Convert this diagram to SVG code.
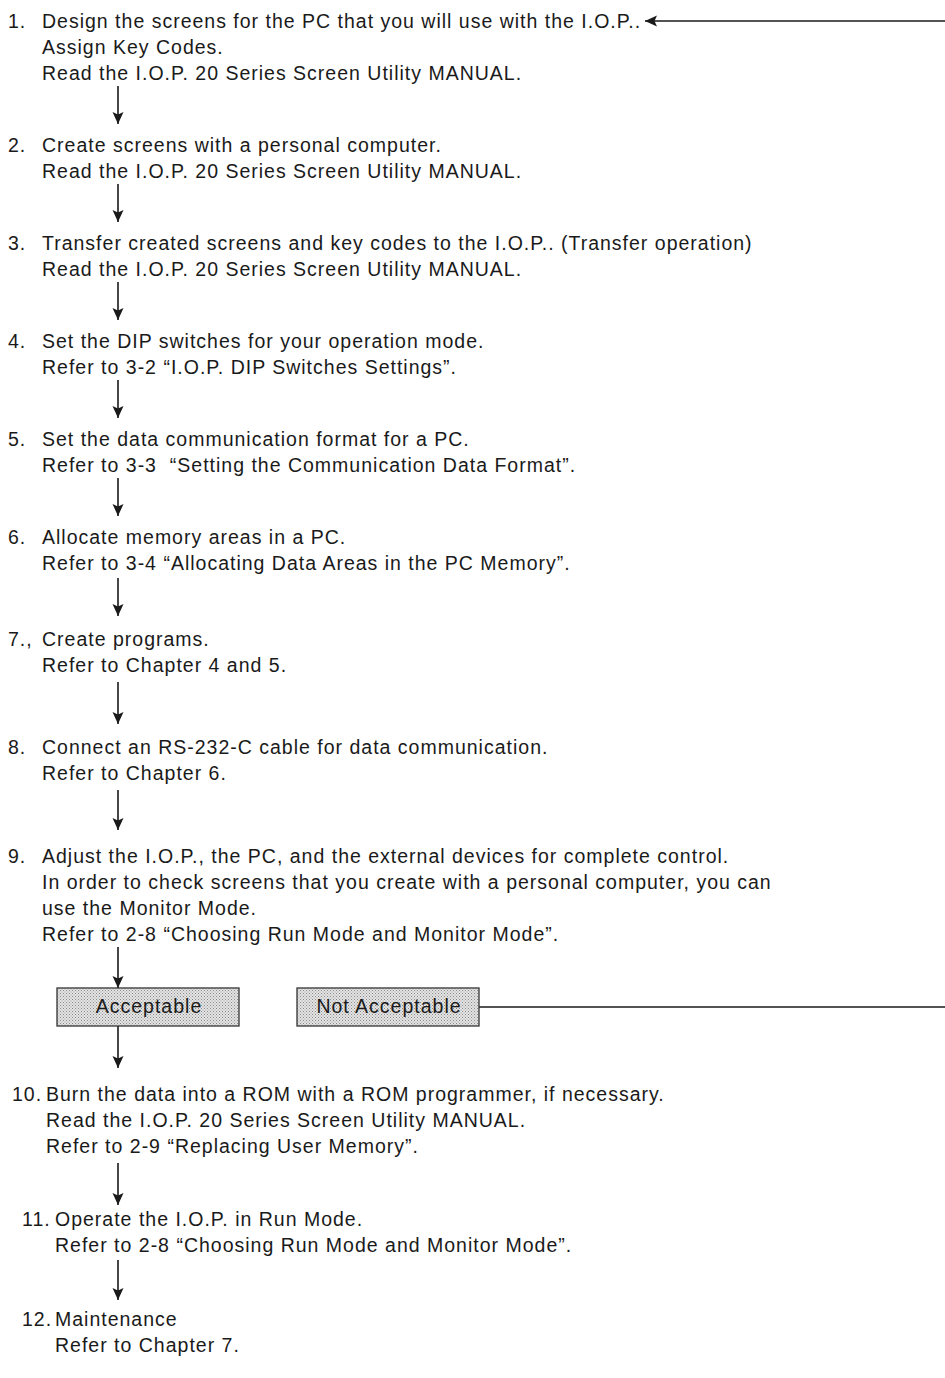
<svg xmlns="http://www.w3.org/2000/svg" width="945" height="1378" viewBox="0 0 945 1378">
<style>
text{font-family:"Liberation Sans","Noto Sans",sans-serif;font-size:19.5px;letter-spacing:1px;fill:#1a1a1a;white-space:pre}
.ln{stroke:#1a1a1a;stroke-width:1.6;fill:none}
.box{fill:url(#dots);stroke:#333;stroke-width:1.3}
.bt{text-anchor:middle}
</style>
<defs>
<marker id="ah" viewBox="0 0 12 12" refX="12" refY="6" markerWidth="12" markerHeight="12" markerUnits="userSpaceOnUse" orient="auto">
<path d="M0,0.5 L12,6 L0,11.5 L2.5,6 Z" fill="#1a1a1a"/>
</marker>
<pattern id="dots" width="3" height="3" patternUnits="userSpaceOnUse">
<rect width="3" height="3" fill="#e4e4e4"/>
<rect width="1" height="1" fill="#8a8a8a"/>
<rect x="1.5" y="1.5" width="1" height="1" fill="#9a9a9a"/>
</pattern>
</defs>
<g id="connectors">
<line class="ln" x1="945" y1="21" x2="645" y2="21" marker-end="url(#ah)"/>
<line class="ln" x1="118" y1="86" x2="118" y2="124" marker-end="url(#ah)"/>
<line class="ln" x1="118" y1="184" x2="118" y2="222" marker-end="url(#ah)"/>
<line class="ln" x1="118" y1="282" x2="118" y2="320" marker-end="url(#ah)"/>
<line class="ln" x1="118" y1="380" x2="118" y2="418" marker-end="url(#ah)"/>
<line class="ln" x1="118" y1="478" x2="118" y2="516" marker-end="url(#ah)"/>
<line class="ln" x1="118" y1="578" x2="118" y2="616" marker-end="url(#ah)"/>
<line class="ln" x1="118" y1="682" x2="118" y2="724" marker-end="url(#ah)"/>
<line class="ln" x1="118" y1="790" x2="118" y2="830" marker-end="url(#ah)"/>
<line class="ln" x1="118" y1="947" x2="118" y2="988" marker-end="url(#ah)"/>
<line class="ln" x1="118" y1="1026" x2="118" y2="1068" marker-end="url(#ah)"/>
<line class="ln" x1="118" y1="1163" x2="118" y2="1205" marker-end="url(#ah)"/>
<line class="ln" x1="118" y1="1260" x2="118" y2="1300" marker-end="url(#ah)"/>
<line class="ln" x1="479" y1="1007" x2="945" y2="1007"/>
</g>
<g id="step1">
<text x="8" y="28">1.</text>
<text x="42" y="28">Design the screens for the PC that you will use with the I.O.P..</text>
<text x="42" y="54">Assign Key Codes.</text>
<text x="42" y="80">Read the I.O.P. 20 Series Screen Utility MANUAL.</text>
</g>
<g id="step2">
<text x="8" y="152">2.</text>
<text x="42" y="152">Create screens with a personal computer.</text>
<text x="42" y="178">Read the I.O.P. 20 Series Screen Utility MANUAL.</text>
</g>
<g id="step3">
<text x="8" y="250">3.</text>
<text x="42" y="250">Transfer created screens and key codes to the I.O.P.. (Transfer operation)</text>
<text x="42" y="276">Read the I.O.P. 20 Series Screen Utility MANUAL.</text>
</g>
<g id="step4">
<text x="8" y="348">4.</text>
<text x="42" y="348">Set the DIP switches for your operation mode.</text>
<text x="42" y="374">Refer to 3-2 “I.O.P. DIP Switches Settings”.</text>
</g>
<g id="step5">
<text x="8" y="446">5.</text>
<text x="42" y="446">Set the data communication format for a PC.</text>
<text x="42" y="472">Refer to 3-3  “Setting the Communication Data Format”.</text>
</g>
<g id="step6">
<text x="8" y="544">6.</text>
<text x="42" y="544">Allocate memory areas in a PC.</text>
<text x="42" y="570">Refer to 3-4 “Allocating Data Areas in the PC Memory”.</text>
</g>
<g id="step7">
<text x="8" y="646">7.,</text>
<text x="42" y="646">Create programs.</text>
<text x="42" y="672">Refer to Chapter 4 and 5.</text>
</g>
<g id="step8">
<text x="8" y="754">8.</text>
<text x="42" y="754">Connect an RS-232-C cable for data communication.</text>
<text x="42" y="780">Refer to Chapter 6.</text>
</g>
<g id="step9">
<text x="8" y="863">9.</text>
<text x="42" y="863">Adjust the I.O.P., the PC, and the external devices for complete control.</text>
<text x="42" y="889">In order to check screens that you create with a personal computer, you can</text>
<text x="42" y="915">use the Monitor Mode.</text>
<text x="42" y="941">Refer to 2-8 “Choosing Run Mode and Monitor Mode”.</text>
</g>
<g id="acceptable">
<rect class="box" x="57" y="988" width="182" height="38"/>
<text class="bt" x="149" y="1013">Acceptable</text>
</g>
<g id="not-acceptable">
<rect class="box" x="297" y="988" width="182" height="38"/>
<text class="bt" x="389" y="1013">Not Acceptable</text>
</g>
<g id="step10">
<text x="12" y="1101">10.</text>
<text x="46" y="1101">Burn the data into a ROM with a ROM programmer, if necessary.</text>
<text x="46" y="1127">Read the I.O.P. 20 Series Screen Utility MANUAL.</text>
<text x="46" y="1153">Refer to 2-9 “Replacing User Memory”.</text>
</g>
<g id="step11">
<text x="22" y="1226">11.</text>
<text x="55" y="1226">Operate the I.O.P. in Run Mode.</text>
<text x="55" y="1252">Refer to 2-8 “Choosing Run Mode and Monitor Mode”.</text>
</g>
<g id="step12">
<text x="22" y="1326">12.</text>
<text x="55" y="1326">Maintenance</text>
<text x="55" y="1352">Refer to Chapter 7.</text>
</g>
</svg>
